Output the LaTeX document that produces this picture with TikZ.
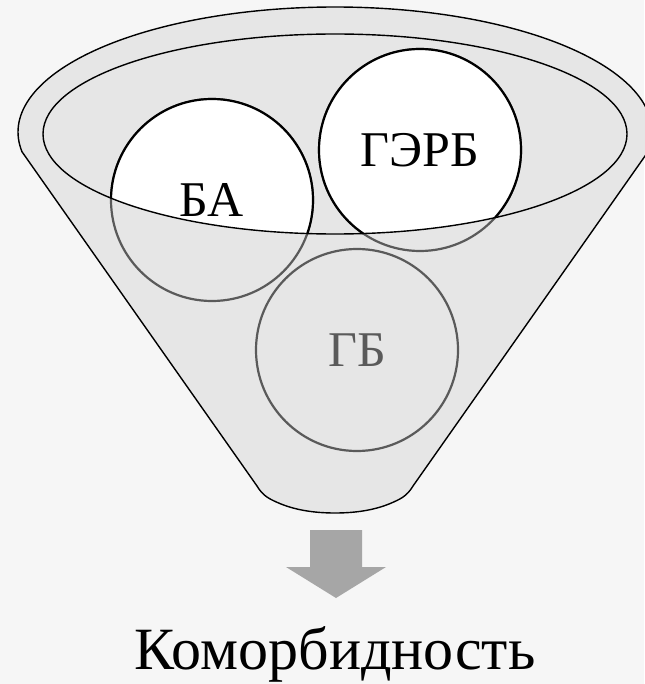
\documentclass[tikz,border=0pt]{standalone}
\usepackage{fontspec}
\setmainfont{Liberation Serif}
\definecolor{funnelfill}{HTML}{E6E6E6}
\definecolor{bgcol}{HTML}{F6F6F6}
\definecolor{lowline}{HTML}{5A5A5A}
\definecolor{arrowcol}{HTML}{A6A6A6}
\begin{document}
\begin{tikzpicture}[x=1pt,y=1pt,
  funnel/.style={fill=funnelfill, draw=black, line width=1.4pt, line join=round},
  lowcircle/.style={circle, minimum size=202pt, inner sep=0pt, fill=funnelfill, draw=lowline, line width=2.2pt, text=lowline, font=\fontsize{50}{60}\selectfont},
  topcircle/.style={lowcircle, fill=white, draw=black, text=black},
  bottomtext/.style={font=\fontsize{60}{72}\selectfont, anchor=base}]
\path[fill=bgcol] (0,0) rectangle (644,-684);
\useasboundingbox (0,0) rectangle (644,-684);
% funnel body
\path[funnel] ([shift={(335,-132)}]-9.1:317 and 125) coordinate (fr)
  arc[start angle=-9.1, end angle=189.1, x radius=317, y radius=125] coordinate (fl)
  -- (257,-486) .. controls (263,-496) and (269,-499) .. (281,-504)
  .. controls (296,-510) and (314,-513) .. (335,-513)
  .. controls (356,-513) and (374,-510) .. (389,-504)
  .. controls (401,-499) and (407,-496) .. (413,-486) -- cycle;
% circles, lower part seen through the funnel
\node[lowcircle] (ba) at (212,-200) {БА};
\node[lowcircle] (gerb) at (420,-150) {ГЭРБ};
\node[lowcircle] (gb) at (357,-350) {ГБ};
% circles, upper part inside the opening
\begin{scope}
  \clip (335,-134) ellipse [x radius=292, y radius=100];
  \node[topcircle] (baTop) at (212,-200) {БА};
  \node[topcircle] (gerbTop) at (420,-150) {ГЭРБ};
\end{scope}
% inner rim
\draw[line width=1.4pt] (335,-134) ellipse [x radius=292, y radius=100];
% arrow
\path[fill=arrowcol] (310,-530) -- (362,-530) -- (362,-567) -- (386,-567) -- (336,-598) -- (286,-567) -- (310,-567) -- cycle;
\node[bottomtext] (como) at (335,-669) {Коморбидность};
\end{tikzpicture}
\end{document}
